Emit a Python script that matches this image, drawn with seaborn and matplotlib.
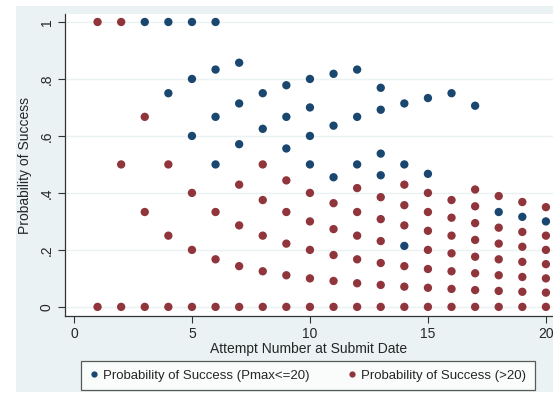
import matplotlib
matplotlib.use("Agg")
import matplotlib.pyplot as plt
from matplotlib.patches import Rectangle
import seaborn as sns
import pandas as pd

# probability values, keyed by attempt number
pmax_le20 = {
    3: [1.0],
    4: [1.0, 0.75],
    5: [1.0, 0.8, 0.6],
    6: [1.0, 0.833, 0.667, 0.5],
    7: [0.857, 0.714, 0.571],
    8: [0.75, 0.625],
    9: [0.778, 0.667, 0.556],
    10: [0.8, 0.7, 0.6, 0.5],
    11: [0.818, 0.636, 0.455],
    12: [0.833, 0.667, 0.5],
    13: [0.769, 0.692, 0.538, 0.462],
    14: [0.714, 0.5, 0.214],
    15: [0.733, 0.467],
    16: [0.75],
    17: [0.706],
    18: [0.333],
    19: [0.316],
    20: [0.3],
}
pmax_gt20 = {
    1: [1.0, 0.0],
    2: [1.0, 0.5, 0.0],
    3: [0.667, 0.333, 0.0],
    4: [0.5, 0.25, 0.0],
    5: [0.4, 0.2, 0.0],
    6: [0.333, 0.167, 0.0],
    7: [0.429, 0.286, 0.143, 0.0],
    8: [0.5, 0.375, 0.25, 0.125, 0.0],
    9: [0.444, 0.333, 0.222, 0.111, 0.0],
    10: [0.4, 0.3, 0.2, 0.1, 0.0],
    11: [0.364, 0.273, 0.182, 0.091, 0.0],
    12: [0.417, 0.333, 0.25, 0.167, 0.083, 0.0],
    13: [0.385, 0.308, 0.231, 0.154, 0.077, 0.0],
    14: [0.429, 0.357, 0.286, 0.143, 0.071, 0.0],
    15: [0.4, 0.333, 0.267, 0.2, 0.133, 0.067, 0.0],
    16: [0.375, 0.313, 0.25, 0.188, 0.125, 0.063, 0.0],
    17: [0.412, 0.353, 0.294, 0.235, 0.176, 0.118, 0.059, 0.0],
    18: [0.389, 0.278, 0.222, 0.167, 0.111, 0.056, 0.0],
    19: [0.368, 0.263, 0.211, 0.158, 0.105, 0.053, 0.0],
    20: [0.35, 0.25, 0.2, 0.15, 0.1, 0.05, 0.0],
}
series_names = ["Probability of Success (Pmax<=20)", "Probability of Success (>20)"]
x_ticks = [0, 5, 10, 15, 20]
y_ticks = [0, 0.2, 0.4, 0.6, 0.8, 1.0]
y_ticklabels = ["0", ".2", ".4", ".6", ".8", "1"]

rows = []
for name, d in zip(series_names, [pmax_le20, pmax_gt20]):
    for att, vals in d.items():
        for v in vals:
            rows.append({"attempt": att, "prob": v, "series": name})
df = pd.DataFrame(rows)

sns.set_style("white")
plt.rcParams['font.family'] = ['Liberation Sans', 'DejaVu Sans']

fig = plt.figure(figsize=(5.53, 4.01), dpi=100)
fig.patch.set_facecolor("white")
# stata-like graph region behind everything
bg = Rectangle((16 / 553, 9 / 401), 1 - 16 / 553, 1 - 15 / 401,
               transform=fig.transFigure, facecolor="#EAF2F3",
               edgecolor="none", zorder=-10)
fig.add_artist(bg)

ax = fig.add_axes([65 / 553, 85 / 401, 1 - 65 / 553, 302 / 401])
ax.set_facecolor("white")

sns.scatterplot(data=df, x="attempt", y="prob", hue="series",
                palette=["#1a476f", "#90353b"], s=36, linewidth=0,
                ax=ax, legend=True, zorder=3)

ax.set_xlim(-0.38, 20.3)
ax.set_ylim(-0.032, 1.028)
ax.set_xticks(x_ticks)
ax.set_yticks(y_ticks)
ax.set_yticklabels(y_ticklabels, rotation=90, va="center")
ax.tick_params(axis="both", direction="out", length=5, width=0.8,
               color="#333333", labelsize=10, pad=3, left=True, bottom=True)
ax.yaxis.grid(True, color="#EAF2F3", linewidth=1)
ax.set_axisbelow(True)
for side in ["top", "right"]:
    ax.spines[side].set_visible(False)
for side in ["left", "bottom"]:
    ax.spines[side].set_color("#333333")
    ax.spines[side].set_linewidth(0.9)

ax.set_xlabel("Attempt Number at Submit Date", fontsize=10, labelpad=1)
ax.set_ylabel("Probability of Success", fontsize=10, labelpad=6)

handles, labels = ax.get_legend_handles_labels()
ax.get_legend().remove()
leg = fig.legend(handles, labels, ncol=2, loc="center",
                 bbox_to_anchor=(308 / 553, 25.5 / 401),
                 frameon=True, fancybox=False, fontsize=9.5,
                 handlelength=0.6, handletextpad=0.4, borderpad=0.65,
                 columnspacing=2.9, markerscale=0.75)
leg.get_frame().set_edgecolor("#333333")
leg.get_frame().set_linewidth(0.9)

fig.savefig("out.png", dpi=100)
